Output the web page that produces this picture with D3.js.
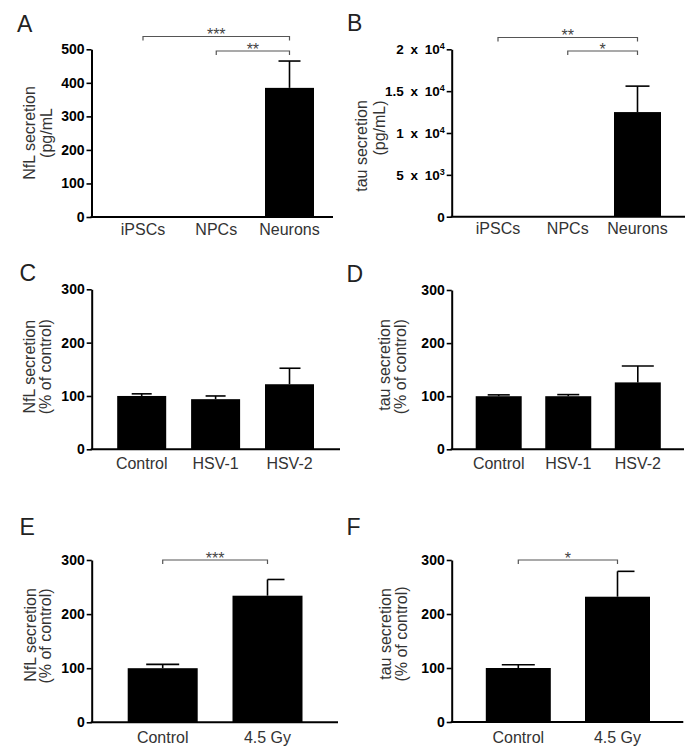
<!DOCTYPE html>
<html><head><meta charset="utf-8">
<script src="https://cdn.jsdelivr.net/npm/d3@7"></script>
<style>body{margin:0;background:#fff;} text{font-family:"Liberation Sans",Arial,sans-serif;}</style>
</head><body><svg id="chart" width="699" height="753"></svg>
<script>
// ---- data ----
const catsAB = ["iPSCs", "NPCs", "Neurons"];
const nflA = [0, 0, 385];
const nflAErr = [0, 0, 80];
const ticksA = [0, 100, 200, 300, 400, 500];
const tauB = [0, 0, 12500];
const tauBErr = [0, 0, 3100];
const ticksB = [0, 5000, 10000, 15000, 20000];
const tickLabelsB = [["0", ""], ["5 x 10", "3"], ["1 x 10", "4"], ["1.5 x 10", "4"], ["2 x 10", "4"]];
const catsCD = ["Control", "HSV-1", "HSV-2"];
const nflC = [100, 94, 122];
const nflCErr = [4, 6, 30];
const tauD = [100, 100, 126];
const tauDErr = [2.5, 3, 31];
const ticksPct = [0, 100, 200, 300];
const catsEF = ["Control", "4.5 Gy"];
const nflE = [100, 234];
const nflEErr = [7, 30];
const tauF = [100, 232];
const tauFErr = [6, 47];
const sigA = [["iPSCs", "Neurons", "***"], ["NPCs", "Neurons", "**"]];
const sigB = [["iPSCs", "Neurons", "**"], ["NPCs", "Neurons", "*"]];
const sigE = [["Control", "4.5 Gy", "***"]];
const sigF = [["Control", "4.5 Gy", "*"]];

// ---- layout ----
const panels = [
  {letter:"A", lx:17, ly:31.5, ax:91.5, y0:217, yTop:49.3, yMax:500, xEnd:333, c:[143,289.5], bw:49, labY:235,
   cats:catsAB, vals:nflA, errs:nflAErr, ticks:ticksA, titles:[["NfL secretion",35,133],["(pg/mL",52,133]],
   sig:sigA, sigY:[36.5,51], caps:[[-11,11],[-11,11],[-11,11]]},
  {letter:"B", lx:347, ly:30.5, ax:451.7, y0:216.7, yTop:49.3, yMax:20000, xEnd:685, c:[498,637.5], bw:47, labY:234,
   cats:catsAB, vals:tauB, errs:tauBErr, ticks:ticksB, tickLabels:tickLabelsB, titles:[["tau secretion",366.5,146],["(pg/mL)",384.5,128]],
   sig:sigB, sigY:[37.5,51], caps:[[-12,12],[-12,12],[-12,12]]},
  {letter:"C", lx:19.5, ly:281, ax:91.7, y0:449.3, yTop:289.3, yMax:300, xEnd:340, c:[141.7,289.5], bw:49, labY:469,
   cats:catsCD, vals:nflC, errs:nflCErr, ticks:ticksPct, titles:[["NfL secretion",35,366.7],["(% of control)",51,366.7]],
   sig:[], sigY:[], caps:[[-10,10],[-10,10],[-10,11]]},
  {letter:"D", lx:346.5, ly:282, ax:451.7, y0:449.3, yTop:290, yMax:300, xEnd:684, c:[498.7,637.8], bw:46, labY:468.5,
   cats:catsCD, vals:tauD, errs:tauDErr, ticks:ticksPct, titles:[["tau secretion",389.5,365],["(% of control)",406,366.7]],
   sig:[], sigY:[], caps:[[-11,11],[-11,11],[-16,16]]},
  {letter:"E", lx:19.5, ly:535, ax:91.7, y0:722.3, yTop:560, yMax:300, xEnd:338, c:[162.7,267.5], bw:70, labY:743,
   cats:catsEF, vals:nflE, errs:nflEErr, ticks:ticksPct, titles:[["NfL secretion",36,635],["(% of control)",51,636]],
   sig:sigE, sigY:[560], caps:[[-16.5,16.5],[0,17]]},
  {letter:"F", lx:346.5, ly:534.5, ax:451.7, y0:722, yTop:560, yMax:300, xEnd:683.3, c:[518.3,617.5], bw:65, labY:742.5,
   cats:catsEF, vals:tauF, errs:tauFErr, ticks:ticksPct, titles:[["tau secretion",391,634],["(% of control)",407,634]],
   sig:sigF, sigY:[560], caps:[[-16.5,16.5],[0,17]]}
];

const svg = d3.select("#chart");
svg.append("rect").attr("width",699).attr("height",753).attr("fill","#fff");

panels.forEach(p => {
  const g = svg.append("g");
  const y = d3.scaleLinear().domain([0, p.yMax]).range([p.y0, p.yTop]);
  const x = d3.scalePoint().domain(p.cats).range(p.c);

  // letter
  g.append("text").attr("x", p.lx).attr("y", p.ly).attr("font-size", 23).attr("fill", "#222").text(p.letter);

  // titles
  p.titles.forEach(t => {
    g.append("text").attr("transform", `translate(${t[1]},${t[2]}) rotate(-90)`)
      .attr("text-anchor", "middle").attr("font-size", 16).attr("fill", "#333").text(t[0]);
  });

  // bars
  const data = p.cats.map((c, i) => ({c, v: p.vals[i], e: p.errs[i], cap: p.caps[i]}));
  g.selectAll("rect.bar").data(data.filter(d => d.v > 0)).join("rect")
    .attr("x", d => x(d.c) - p.bw / 2).attr("width", p.bw)
    .attr("y", d => y(d.v)).attr("height", d => y(0) - y(d.v)).attr("fill", "#000");

  // error bars
  const eb = data.filter(d => d.v > 0);
  g.selectAll("line.ev").data(eb).join("line")
    .attr("x1", d => x(d.c)).attr("x2", d => x(d.c))
    .attr("y1", d => y(d.v)).attr("y2", d => y(d.v + d.e))
    .attr("stroke", "#000").attr("stroke-width", 1.6);
  g.selectAll("line.ec").data(eb).join("line")
    .attr("x1", d => x(d.c) + d.cap[0]).attr("x2", d => x(d.c) + d.cap[1])
    .attr("y1", d => y(d.v + d.e)).attr("y2", d => y(d.v + d.e))
    .attr("stroke", "#000").attr("stroke-width", 1.6);

  // y axis
  const axis = d3.axisLeft(y).tickValues(p.ticks).tickSize(5).tickSizeOuter(0).tickPadding(2);
  if (!p.tickLabels) axis.tickFormat(d3.format("d"));
  const ag = g.append("g").attr("transform", `translate(${p.ax},0)`).call(axis);
  ag.select(".domain").attr("stroke", "#000").attr("stroke-width", 2);
  ag.selectAll(".tick line").attr("stroke", "#000").attr("stroke-width", 1.6);
  ag.selectAll(".tick text").attr("font-size", 14).attr("font-weight", "bold").attr("fill", "#000")
    .attr("font-family", "Liberation Sans, Arial, sans-serif");
  if (p.tickLabels) {
    ag.selectAll(".tick text").each(function(d) {
      const lab = p.tickLabels[p.ticks.indexOf(d)];
      const t = d3.select(this).text(null).attr("font-size", 13.5).attr("word-spacing", "3px");
      t.append("tspan").text(lab[0]);
      if (lab[1]) t.append("tspan").attr("font-size", 9).attr("dy", "-0.55em").text(lab[1]);
    });
  }

  // x axis line
  g.append("line").attr("x1", p.ax - 1).attr("x2", p.xEnd).attr("y1", p.y0).attr("y2", p.y0)
    .attr("stroke", "#000").attr("stroke-width", 2);
  // x labels
  g.selectAll("text.xl").data(p.cats).join("text")
    .attr("x", d => x(d)).attr("y", p.labY).attr("text-anchor", "middle")
    .attr("font-size", 16).attr("fill", "#333").text(d => d);

  // significance brackets
  p.sig.forEach((s, i) => {
    const x1 = x(s[0]), x2 = x(s[1]), yy = p.sigY[i];
    g.append("path").attr("d", `M${x1},${yy + 4}V${yy}H${x2}V${yy + 4}`)
      .attr("fill", "none").attr("stroke", "#555").attr("stroke-width", 1.2);
    g.append("text").attr("x", (x1 + x2) / 2).attr("y", yy + 3.5).attr("text-anchor", "middle")
      .attr("font-size", 16).attr("fill", "#444").text(s[2]);
  });
});
</script></body></html>
